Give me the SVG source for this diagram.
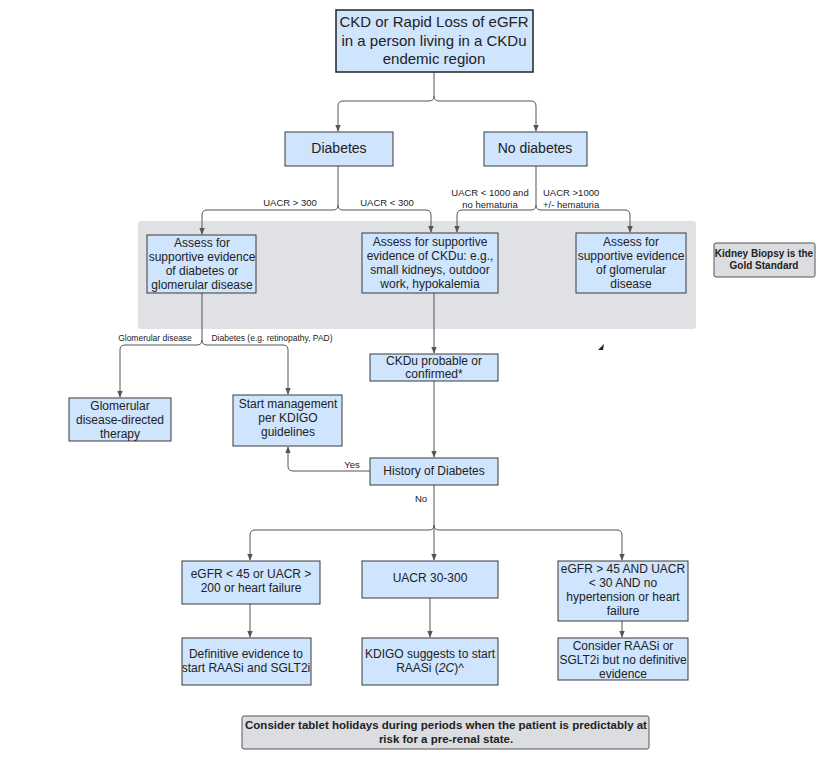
<svg xmlns="http://www.w3.org/2000/svg" width="825" height="757" viewBox="0 0 825 757">
<style>
.n{fill:#cfe4fd;stroke:#3a3a3a;stroke-width:1}
.g{fill:#dcdde1;stroke:#555;stroke-width:1}
text{font-family:"Liberation Sans",Arial,sans-serif;fill:#222;text-anchor:middle}
text.s{text-anchor:start}
.t{font-size:12px}
.l{font-size:9.5px}
.b{font-size:10px;font-weight:bold}
.c path{fill:none;stroke:#555;stroke-width:1}
</style>
<defs><marker id="a" viewBox="0 0 10 10" refX="9" refY="5" markerWidth="7" markerHeight="7" orient="auto"><path d="M0,1L10,5L0,9z" fill="#555"/></marker></defs>
<rect x="138" y="221" width="558" height="108" rx="3" fill="#e0e1e5"/>
<g class="c">
<path d="M434,72V96Q434,101 429,101H343Q338,101 338,106V131" marker-end="url(#a)"/>
<path d="M434,96Q434,101 439,101H531Q536,101 536,106V131" marker-end="url(#a)"/>
<path d="M338,166V205Q338,210 333,210H207Q202,210 202,215V234" marker-end="url(#a)"/>
<path d="M338,205Q338,210 343,210H426Q431,210 431,215V232" marker-end="url(#a)"/>
<path d="M536,166V205Q536,210 531,210H462Q457,210 457,215V232" marker-end="url(#a)"/>
<path d="M536,205Q536,210 541,210H625Q630,210 630,215V232" marker-end="url(#a)"/>
<path d="M202,293V340Q202,345 197,345H125Q120,345 120,350V397" marker-end="url(#a)"/>
<path d="M202,340Q202,345 207,345H283Q288,345 288,350V394" marker-end="url(#a)"/>
<path d="M434,293V353" marker-end="url(#a)"/>
<path d="M434,381V457" marker-end="url(#a)"/>
<path d="M370,471H293Q288,471 288,466V447" marker-end="url(#a)"/>
<path d="M434,485V525Q434,530 429,530H255Q250,530 250,535V560" marker-end="url(#a)"/>
<path d="M434,525V560" marker-end="url(#a)"/>
<path d="M434,525Q434,530 439,530H617Q622,530 622,535V560" marker-end="url(#a)"/>
<path d="M250,604V637" marker-end="url(#a)"/>
<path d="M430,598V637" marker-end="url(#a)"/>
<path d="M622,621V637" marker-end="url(#a)"/>
</g>
<g class="l">
<text x="290" y="206">UACR &gt; 300</text>
<text x="387" y="206">UACR &lt; 300</text>
<text x="490" y="196">UACR &lt; 1000 and</text><text x="490" y="208">no hematuria</text>
<text class="s" x="543" y="196">UACR &gt;1000</text><text class="s" x="543" y="208">+/- hematuria</text>
<text x="155" y="341" style="font-size:8.5px">Glomerular disease</text>
<text x="272" y="341" style="font-size:8.5px">Diabetes (e.g. retinopathy, PAD)</text>
<text x="352" y="468">Yes</text>
<text x="421" y="502">No</text>
</g>
<g id="top"><rect class="n" x="336" y="10" width="197" height="62" style="stroke-width:1.5;stroke:#222"/>
<text x="434" y="27" style="font-size:15px">CKD or Rapid Loss of eGFR</text><text x="434" y="46" style="font-size:15px">in a person living in a CKDu</text><text x="434" y="64" style="font-size:15px">endemic region</text></g>
<g id="diab"><rect class="n" x="285" y="132" width="108" height="34"/><text x="339" y="153" style="font-size:14px">Diabetes</text></g>
<g id="nodiab"><rect class="n" x="484" y="132" width="103" height="34"/><text x="535" y="153" style="font-size:14px">No diabetes</text></g>
<g id="boxA" class="t"><rect class="n" x="147" y="235" width="109" height="58"/>
<text x="202" y="247">Assess for</text><text x="202" y="261">supportive evidence</text><text x="202" y="275">of diabetes or</text><text x="202" y="289">glomerular disease</text></g>
<g id="boxB" class="t"><rect class="n" x="362" y="233" width="136" height="60"/>
<text x="430" y="246">Assess for supportive</text><text x="430" y="260">evidence of CKDu: e.g.,</text><text x="430" y="274">small kidneys, outdoor</text><text x="430" y="288">work, hypokalemia</text></g>
<g id="boxC" class="t"><rect class="n" x="576" y="233" width="110" height="60"/>
<text x="631" y="246">Assess for</text><text x="631" y="260">supportive evidence</text><text x="631" y="274">of glomerular</text><text x="631" y="288">disease</text></g>
<g id="biopsy"><rect class="g" x="714" y="243" width="101" height="34" rx="2"/><text class="b" x="764" y="257">Kidney Biopsy is the</text><text class="b" x="764" y="269">Gold Standard</text></g>
<g id="glom" class="t"><rect class="n" x="69" y="398" width="102" height="43"/><text x="120" y="410">Glomerular</text><text x="120" y="424">disease-directed</text><text x="120" y="438">therapy</text></g>
<g id="start" class="t"><rect class="n" x="233" y="395" width="109" height="51"/><text x="288" y="408">Start management</text><text x="288" y="422">per KDIGO</text><text x="288" y="436">guidelines</text></g>
<g id="ckdu" class="t"><rect class="n" x="370" y="354" width="128" height="27"/><text x="434" y="365">CKDu probable or</text><text x="434" y="378">confirmed*</text></g>
<g id="hist" class="t"><rect class="n" x="370" y="458" width="128" height="27"/><text x="434" y="475">History of Diabetes</text></g>
<g id="b1" class="t"><rect class="n" x="182" y="561" width="138" height="43"/><text x="251" y="578">eGFR &lt; 45 or UACR &gt;</text><text x="251" y="592">200 or heart failure</text></g>
<g id="b2" class="t"><rect class="n" x="362" y="561" width="136" height="37"/><text x="430" y="582">UACR 30-300</text></g>
<g id="b3" class="t"><rect class="n" x="558" y="561" width="130" height="60"/><text x="623" y="573">eGFR &gt; 45 AND UACR</text><text x="623" y="587">&lt; 30 AND no</text><text x="623" y="601">hypertension or heart</text><text x="623" y="615">failure</text></g>
<g id="c1" class="t"><rect class="n" x="182" y="638" width="129" height="47"/><text x="246" y="658">Definitive evidence to</text><text x="246" y="672">start RAASi and SGLT2i</text></g>
<g id="c2" class="t"><rect class="n" x="362" y="638" width="136" height="47"/><text x="430" y="658">KDIGO suggests to start</text><text x="430" y="672">RAASi (<tspan font-style="italic">2C</tspan>)^</text></g>
<g id="c3" class="t"><rect class="n" x="558" y="638" width="130" height="42"/><text x="623" y="650">Consider RAASi or</text><text x="623" y="664">SGLT2i but no definitive</text><text x="623" y="678">evidence</text></g>
<g id="note"><rect class="g" x="242" y="716" width="407" height="33" rx="2"/><text x="446" y="729" style="font-size:11.5px;font-weight:bold">Consider tablet holidays during periods when the patient is predictably at</text><text x="446" y="743" style="font-size:11.5px;font-weight:bold">risk for a pre-renal state.</text></g>
<path d="M598,350L604,344L603,350z" fill="#222"/>
</svg>
